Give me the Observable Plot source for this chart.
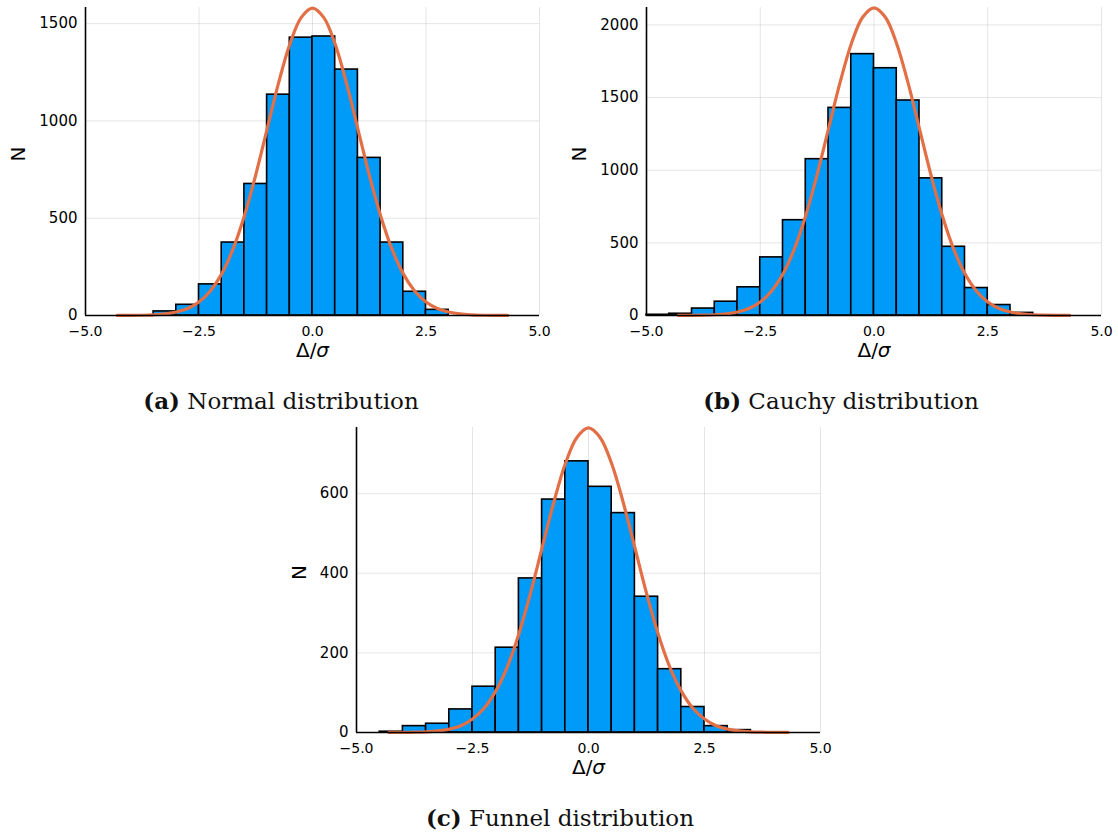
<!DOCTYPE html>
<html><head><meta charset="utf-8">
<script src="https://cdn.jsdelivr.net/npm/d3@7"></script>
<script src="https://cdn.jsdelivr.net/npm/@observablehq/plot@0.6"></script>
<style>
html,body{margin:0;padding:0;background:#fff;}
#root{position:relative;width:1118px;height:836px;overflow:hidden;background:#fff;}
#root > div, #root > svg {position:absolute;}
</style></head><body><div id="root"></div>
<script>
// ---- data ----
const binWidth = 0.5;
const xTicks = [-5, -2.5, 0, 2.5, 5];

const normalBinStarts = [-3.5,-3.0,-2.5,-2.0,-1.5,-1.0,-0.5,0.0,0.5,1.0,1.5,2.0,2.5];
const normalCounts    = [21,55,160,375,676,1135,1428,1434,1264,810,375,122,29];
const normalYTicks    = [0, 500, 1000, 1500];

const cauchyBinStarts = [-5.0,-4.5,-4.0,-3.5,-3.0,-2.5,-2.0,-1.5,-1.0,-0.5,0.0,0.5,1.0,1.5,2.0,2.5,3.0];
const cauchyCounts    = [5,12,48,95,194,400,656,1076,1429,1799,1702,1480,944,473,189,72,18];
const cauchyYTicks    = [0, 500, 1000, 1500, 2000];

const funnelBinStarts = [-4.5,-4.0,-3.5,-3.0,-2.5,-2.0,-1.5,-1.0,-0.5,0.0,0.5,1.0,1.5,2.0,2.5,3.0];
const funnelCounts    = [2,16,22,58,115,213,387,585,681,617,551,341,159,64,16,6];
const funnelYTicks    = [0, 200, 400, 600];

const curveX = [-4.3,-4.0,-3.75,-3.5,-3.25,-3.0,-2.75,-2.5,-2.25,-2.0,-1.75,-1.5,-1.25,-1.0,-0.75,-0.5,-0.25,0,
                0.25,0.5,0.75,1.0,1.25,1.5,1.75,2.0,2.25,2.5,2.75,3.0,3.25,3.5,3.75,4.0,4.3];
const normalCurve = [0.2,0.5,1.4,3.5,8,18,36,69,126,214,342,513,723,958,1193,1394,1531,1580,
                     1531,1394,1193,958,723,513,342,214,126,69,36,18,8,3.5,1.4,0.5,0.2];
const cauchyCurve = [0.2,0.7,2,5,11,24,48,93,169,287,458,688,970,1285,1599,1869,2053,2118,
                     2053,1869,1599,1285,970,688,458,287,169,93,48,24,11,5,2,0.7,0.2];
const funnelCurve = [0.1,0.2,0.7,1.7,3.9,8.5,17,34,61,104,165,248,350,464,577,675,741,765,
                     741,675,577,464,350,248,165,104,61,34,17,8.5,3.9,1.7,0.7,0.2,0.1];

const captions = [
  {tag: "(a)", text: " Normal distribution"},
  {tag: "(b)", text: " Cauchy distribution"},
  {tag: "(c)", text: " Funnel distribution"}
];

// ---- drawing ----
const root = document.getElementById("root");
const fmtX = d => d.toFixed(1).replace("-", "\u2212");

function makePlot(o) {
  const bars = o.binStarts.map((s, i) => ({x1: s, x2: s + binWidth, y: o.counts[i]}));
  const curve = curveX.map((x, i) => ({x, y: o.curveY[i]}));
  const svg = Plot.plot({
    width: o.width, height: o.height,
    marginLeft: o.ml, marginRight: o.mr, marginTop: o.mt, marginBottom: o.mb,
    x: {domain: [-5, 5]},
    y: {domain: [0, o.yMax]},
    style: {fontFamily: "DejaVu Sans", fontSize: "15px", color: "#000", background: "transparent", overflow: "visible"},
    marks: [
      Plot.gridX(xTicks, {stroke: "#000", strokeOpacity: 0.1, strokeWidth: 1}),
      Plot.gridY(o.yTicks, {stroke: "#000", strokeOpacity: 0.1, strokeWidth: 1}),
      Plot.rectY(bars, {x1: "x1", x2: "x2", y: "y", fill: "#009af9", stroke: "#000", strokeWidth: 1.6}),
      Plot.line(curve, {x: "x", y: "y", stroke: "#e26f46", strokeWidth: 3.2, curve: "catmull-rom"}),
      Plot.ruleX([-5], {stroke: "#000", strokeWidth: 1.6}),
      Plot.ruleY([0], {stroke: "#000", strokeWidth: 1.6}),
      Plot.axisX(xTicks, {tickSize: 0, tickPadding: 11, tickFormat: fmtX, label: null, fontSize: 14}),
      Plot.axisY(o.yTicks, {tickSize: 0, tickPadding: 8, tickFormat: d => String(d), label: null, fontSize: 15}),
      Plot.text(["\u0394/\u03c3"], {text: d => d, frameAnchor: "bottom", dy: 41, fontSize: 20}),
      Plot.text(["N"], {text: d => d, frameAnchor: "left", dx: o.ylabelDx, rotate: -90, fontSize: 20})
    ]
  });
  svg.querySelectorAll("text").forEach(t => {
    if (t.textContent === "\u0394/\u03c3") t.innerHTML = '\u0394/<tspan font-style="italic">\u03c3</tspan>';
  });
  svg.style.left = o.left + "px";
  svg.style.top = o.top + "px";
  svg.style.position = "absolute";
  root.appendChild(svg);
}

makePlot({binStarts: normalBinStarts, counts: normalCounts, curveY: normalCurve, yMax: 1583, yTicks: normalYTicks,
  left: 0, top: 0, width: 560, height: 370, ml: 85, mr: 21, mt: 7, mb: 55, ylabelDx: -67});
makePlot({binStarts: cauchyBinStarts, counts: cauchyCounts, curveY: cauchyCurve, yMax: 2120, yTicks: cauchyYTicks,
  left: 560, top: 0, width: 558, height: 370, ml: 86, mr: 17, mt: 7, mb: 55, ylabelDx: -67});
makePlot({binStarts: funnelBinStarts, counts: funnelCounts, curveY: funnelCurve, yMax: 766, yTicks: funnelYTicks,
  left: 270, top: 410, width: 570, height: 370, ml: 86, mr: 20, mt: 17, mb: 48, ylabelDx: -57});

// captions
const ns = "http://www.w3.org/2000/svg";
const cap = document.createElementNS(ns, "svg");
cap.setAttribute("width", 1118); cap.setAttribute("height", 836);
cap.style.left = "0px"; cap.style.top = "0px"; cap.style.pointerEvents = "none";
const capPos = [[281, 409], [841, 409], [560, 826]];
captions.forEach((c, i) => {
  const t = document.createElementNS(ns, "text");
  t.setAttribute("x", capPos[i][0]); t.setAttribute("y", capPos[i][1]);
  t.setAttribute("text-anchor", "middle");
  t.setAttribute("font-family", "DejaVu Serif");
  t.setAttribute("font-size", "23");
  t.setAttribute("fill", "#111");
  const b = document.createElementNS(ns, "tspan");
  b.setAttribute("font-weight", "bold"); b.textContent = c.tag;
  t.appendChild(b);
  t.appendChild(document.createTextNode(c.text));
  cap.appendChild(t);
});
root.appendChild(cap);
</script>
</body></html>
